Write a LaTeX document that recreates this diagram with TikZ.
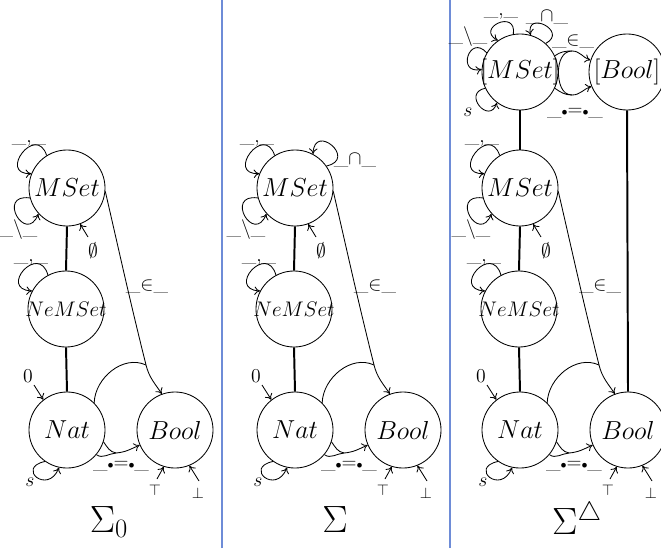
\RequirePackage{fix-cm}
\documentclass[tikz,border=0pt]{standalone}
\usetikzlibrary{arrows.meta}
\definecolor{sepblue}{RGB}{110,140,215}
\begin{document}
\begin{tikzpicture}[x=0.025cm,y=0.025cm,
  sortnode/.style={circle,draw,line width=0.6pt,minimum size=1.9cm,inner sep=0pt,font=\fontsize{18.5}{22}\selectfont},
  lab/.style={inner sep=0pt,font=\fontsize{14}{17}\selectfont},
  tiny/.style={inner sep=0pt,font=\fontsize{11}{13}\selectfont},
  sig/.style={inner sep=0pt,font=\fontsize{27}{30}\selectfont},
  arr/.style={line width=0.6pt,-{Computer Modern Rightarrow[length=4pt,width=6pt]}},
  edge/.style={line width=0.6pt},
  thickedge/.style={line width=1.4pt},
  sepline/.style={line width=0.9pt,draw=sepblue}]
\useasboundingbox (0,0) rectangle (661,548);

% panel separators
\draw[sepline] (222,0) -- (222,548);
\draw[sepline] (450,0) -- (450,548);

% the part shared by the three signatures
\foreach \p/\dx in {a/0,b/228,c/453}{
\begin{scope}[shift={(\dx,0)}]
  \node[sortnode] (\p MSet) at (67,360) {\makebox[0pt]{$MSet$}};
  \node[sortnode] (\p NeMSet) at (66,239) {\makebox[0pt]{\fontsize{15}{18}\selectfont$NeMSet$}};
  \node[sortnode] (\p Nat) at (67,118) {\makebox[0pt]{$Nat$}};
  \node[sortnode] (\p Bool) at (175,118) {\makebox[0pt]{$Bool$}};
  % subsort lines
  \draw[thickedge] (\p MSet.south) -- (\p NeMSet.north);
  \draw[thickedge] (\p NeMSet.south) -- (\p Nat.north);
  % operations on MSet
  \draw[arr] (\p MSet.122) .. controls +(108:0.85cm) and +(182:0.85cm) .. (\p MSet.158);
  \node[lab] (\p lcm) at (29,405) {\_,\_};
  \draw[arr] (\p MSet.195) .. controls +(172:0.85cm) and +(248:0.85cm) .. (\p MSet.222);
  \node[lab] (\p lbs) at (18,318) {\_$\backslash$\_};
  \coordinate (\p e0) at (88,311);
  \draw[arr] (\p e0) -- (\p MSet.-70);
  \node[lab] (\p lem) at (93,297) {$\emptyset$};
  % operation on NeMSet
  \draw[arr] (\p NeMSet.118) .. controls +(106:0.85cm) and +(177:0.85cm) .. (\p NeMSet.152);
  \node[lab] (\p lcn) at (31,286) {\_,\_};
  % operations on Nat
  \coordinate (\p z0) at (34,163);
  \draw[arr] (\p z0) -- (\p Nat.128);
  \node[lab] (\p lzero) at (28,172) {0};
  \draw[arr] (\p Nat.235) .. controls +(192:0.75cm) and +(248:0.75cm) .. (\p Nat.258);
  \node[lab] (\p ls) at (30,66) {$s$};
  % membership
  \coordinate (\p J) at (146,183);
  \draw[edge] (\p MSet.-5) to[out=-77,in=104] (\p J);
  \draw[edge] (\p Nat.45) to[out=88,in=155] (\p J);
  \draw[arr] (\p J) to[out=-76,in=124] (\p Bool.110);
  \node[lab] (\p lin) at (147,261) {\_$\in$\_};
  % equality
  \coordinate (\p K) at (116,95);
  \draw[edge] (\p Nat.-18) to[out=-55,in=170] (\p K);
  \draw[edge] (\p Nat.-40) to[out=-35,in=185] (\p K);
  \draw[arr] (\p K) to[out=5,in=205] (\p Bool.203);
  \node[lab] (\p leq) at (121,82) {\_{\fontsize{8}{8}\selectfont$\bullet$}={\fontsize{8}{8}\selectfont$\bullet$}\_};
  % constants of Bool
  \coordinate (\p t0) at (157,69);
  \draw[arr] (\p t0) -- (\p Bool.253);
  \node[tiny] (\p ltop) at (155,58) {$\top$};
  \coordinate (\p f0) at (199,67);
  \draw[arr] (\p f0) -- (\p Bool.-68);
  \node[tiny] (\p lbot) at (198,55) {$\bot$};
\end{scope}
}

% intersection in the second signature
\draw[arr] (bMSet.35) .. controls +(12:0.8cm) and +(88:0.8cm) .. (bMSet.62);
\node[lab] (lcap) at (355,388) {\_$\cap$\_};

% lifted sorts of the third signature
\node[sortnode] (LMSet) at (520,476) {\makebox[0pt]{$[MSet]$}};
\node[sortnode] (LBool) at (627,476) {\makebox[0pt]{$[Bool]$}};
\draw[thickedge] (LMSet.south) -- (cMSet.north);
\draw[thickedge] (LBool.south) -- (cBool.north);

\draw[arr] (LMSet.150) .. controls +(132:0.65cm) and +(192:0.65cm) .. (LMSet.176);
\node[lab] (Llbs) at (468,511) {\_$\backslash$\_};
\draw[arr] (LMSet.100) .. controls +(82:0.65cm) and +(152:0.65cm) .. (LMSet.125);
\node[lab] (Llcm) at (501,532) {\_,\_};
\draw[arr] (LMSet.48) .. controls +(28:0.65cm) and +(102:0.65cm) .. (LMSet.74);
\node[lab] (Llcap) at (547,531) {\_$\cap$\_};
\draw[arr] (LMSet.205) .. controls +(192:0.6cm) and +(252:0.6cm) .. (LMSet.233);
\node[lab] (Lls) at (468,436) {$s$};

\coordinate (LJ) at (572,497);
\coordinate (LK) at (572,453);
\draw[edge] (LMSet.25) to[out=35,in=180] (LJ);
\draw[edge] (LMSet.0) to[out=90,in=180] (LJ);
\draw[arr] (LJ) to[out=0,in=162] (LBool.162);
\node[lab] (Llin) at (573,506) {\_$\in$\_};
\draw[edge] (LMSet.-25) to[out=-35,in=180] (LK);
\draw[edge] (LMSet.0) to[out=-90,in=180] (LK);
\draw[arr] (LK) to[out=0,in=198] (LBool.202);
\node[lab] (Lleq) at (575,435) {\_{\fontsize{8}{8}\selectfont$\bullet$}={\fontsize{8}{8}\selectfont$\bullet$}\_};

% signature names
\node[sig] (s0) at (109,26) {$\Sigma_0$};
\node[sig] (s1) at (335,28) {$\Sigma$};
\node[sig] (s2) at (577,30) {$\Sigma^{\triangle}$};
\end{tikzpicture}
\end{document}
